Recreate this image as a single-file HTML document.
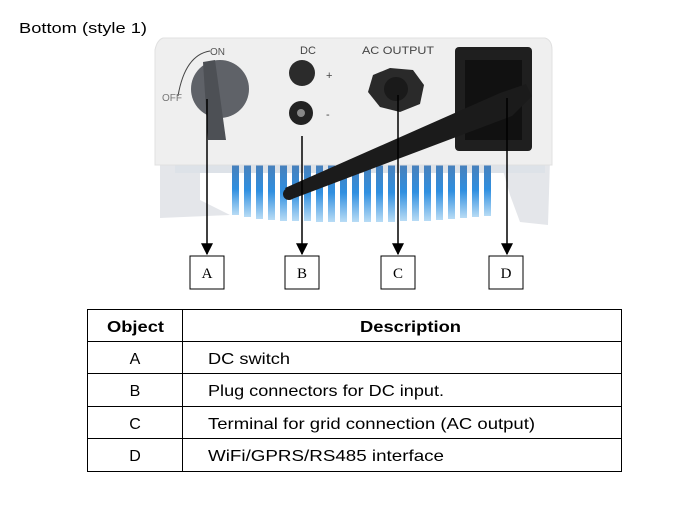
<!DOCTYPE html>
<html><head><style>
body{margin:0;width:700px;height:500px;background:#fff;overflow:hidden;font-family:"Liberation Sans",sans-serif}
</style></head><body>
<svg width="700" height="500" viewBox="0 0 700 500" xmlns="http://www.w3.org/2000/svg" font-family="Liberation Sans, sans-serif">
<defs>
<linearGradient id="fin" x1="0" y1="0" x2="0" y2="1">
<stop offset="0" stop-color="#4a7fb8"/><stop offset="0.5" stop-color="#2f8fe0"/><stop offset="1" stop-color="#b8dcf5"/>
</linearGradient>
<marker id="ar" viewBox="0 0 10 10" refX="9" refY="5" markerWidth="8" markerHeight="8" orient="auto"><path d="M0,0L10,5L0,10z" fill="#000"/></marker>
</defs>
<text x="19" y="33" font-size="15" textLength="128" lengthAdjust="spacingAndGlyphs">Bottom (style 1)</text>
<path d="M160 160 L200 160 L200 200 L230 215 L160 218 Z" fill="#e4e6ea"/>
<path d="M500 160 L550 160 L548 225 L520 222 L510 195 Z" fill="#e4e6ea"/>
<rect x="175" y="163" width="370" height="10" fill="#dde2e8"/>
<g fill="url(#fin)">
<rect x="232" y="163" width="7" height="52"/><rect x="244" y="163" width="7" height="54"/><rect x="256" y="163" width="7" height="56"/><rect x="268" y="163" width="7" height="57"/><rect x="280" y="163" width="7" height="58"/><rect x="292" y="163" width="7" height="58"/><rect x="304" y="163" width="7" height="58"/><rect x="316" y="163" width="7" height="59"/><rect x="328" y="163" width="7" height="59"/><rect x="340" y="163" width="7" height="59"/><rect x="352" y="163" width="7" height="59"/><rect x="364" y="163" width="7" height="59"/><rect x="376" y="163" width="7" height="59"/><rect x="388" y="163" width="7" height="59"/><rect x="400" y="163" width="7" height="58"/><rect x="412" y="163" width="7" height="58"/><rect x="424" y="163" width="7" height="58"/><rect x="436" y="163" width="7" height="57"/><rect x="448" y="163" width="7" height="56"/><rect x="460" y="163" width="7" height="55"/><rect x="472" y="163" width="7" height="54"/><rect x="484" y="163" width="7" height="53"/>
</g>
<path d="M163 38 L545 38 Q552 40 552 50 L552 165 L155 165 L155 50 Q157 40 163 38 Z" fill="#efefef" stroke="#e0e0e0"/>
<path d="M178 96 Q185 55 210 51" fill="none" stroke="#444" stroke-width="1"/>
<text x="210" y="55" font-size="10" fill="#555">ON</text>
<text x="162" y="101" font-size="10" fill="#777">OFF</text>
<circle cx="220" cy="89" r="29" fill="#5f6268"/>
<path d="M203 62 L215 60 L226 140 L208 140 Z" fill="#4d5055"/>
<text x="300" y="54" font-size="11" fill="#444">DC</text>
<text x="326" y="79" font-size="11" fill="#444">+</text>
<text x="326" y="118" font-size="11" fill="#444">-</text>
<circle cx="302" cy="73" r="13" fill="#2b2b2b"/>
<circle cx="301" cy="113" r="12" fill="#222"/><circle cx="301" cy="113" r="4" fill="#888"/>
<text x="362" y="54" font-size="11" fill="#444" textLength="72" lengthAdjust="spacingAndGlyphs">AC  OUTPUT</text>
<path d="M373 75 L390 68 L413 70 L424 85 L420 104 L400 112 L380 107 L368 92 Z" fill="#2a2a2a"/>
<circle cx="396" cy="89" r="12" fill="#1a1a1a"/>
<rect x="455" y="47" width="77" height="104" rx="4" fill="#1f1f1f"/>
<rect x="465" y="60" width="57" height="80" fill="#111"/>
<path d="M285 188 L500 93 L526 84 L532 96 L512 116 L292 199 Z" fill="#1b1b1b"/>
<circle cx="289" cy="194" r="6" fill="#1b1b1b"/>
<g stroke="#000" stroke-width="1.5">
<line x1="207" y1="99" x2="207" y2="254" marker-end="url(#ar)"/>
<line x1="302" y1="136" x2="302" y2="254" marker-end="url(#ar)"/>
<line x1="398" y1="95" x2="398" y2="254" marker-end="url(#ar)"/>
<line x1="507" y1="98" x2="507" y2="254" marker-end="url(#ar)"/>
</g>
<g fill="#fff" stroke="#000" stroke-width="1">
<rect x="190" y="256" width="34" height="33"/><rect x="285" y="256" width="34" height="33"/><rect x="381" y="256" width="34" height="33"/><rect x="489" y="256" width="34" height="33"/>
</g>
<g font-family="Liberation Serif, serif" font-size="15" text-anchor="middle">
<text x="207" y="278">A</text><text x="302" y="278">B</text><text x="398" y="278">C</text><text x="506" y="278">D</text>
</g>
<g stroke="#000" stroke-width="1" fill="none">
<rect x="87.5" y="309.5" width="534" height="162"/>
<line x1="182.5" y1="309" x2="182.5" y2="471"/>
<line x1="87" y1="341.5" x2="621" y2="341.5"/>
<line x1="87" y1="373.5" x2="621" y2="373.5"/>
<line x1="87" y1="406.5" x2="621" y2="406.5"/>
<line x1="87" y1="438.5" x2="621" y2="438.5"/>
</g>
<g font-size="16">
<text x="107" y="332" font-weight="bold" textLength="57" lengthAdjust="spacingAndGlyphs">Object</text>
<text x="360" y="332" font-weight="bold" textLength="101" lengthAdjust="spacingAndGlyphs">Description</text>
<text x="135" y="364" text-anchor="middle">A</text><text x="208" y="364" textLength="82" lengthAdjust="spacingAndGlyphs">DC switch</text>
<text x="135" y="396" text-anchor="middle">B</text><text x="208" y="396" textLength="236" lengthAdjust="spacingAndGlyphs">Plug connectors for DC input.</text>
<text x="135" y="429" text-anchor="middle">C</text><text x="208" y="429" textLength="327" lengthAdjust="spacingAndGlyphs">Terminal for grid connection (AC output)</text>
<text x="135" y="461" text-anchor="middle">D</text><text x="208" y="461" textLength="236" lengthAdjust="spacingAndGlyphs">WiFi/GPRS/RS485  interface</text>
</g>
</svg>
</body></html>
